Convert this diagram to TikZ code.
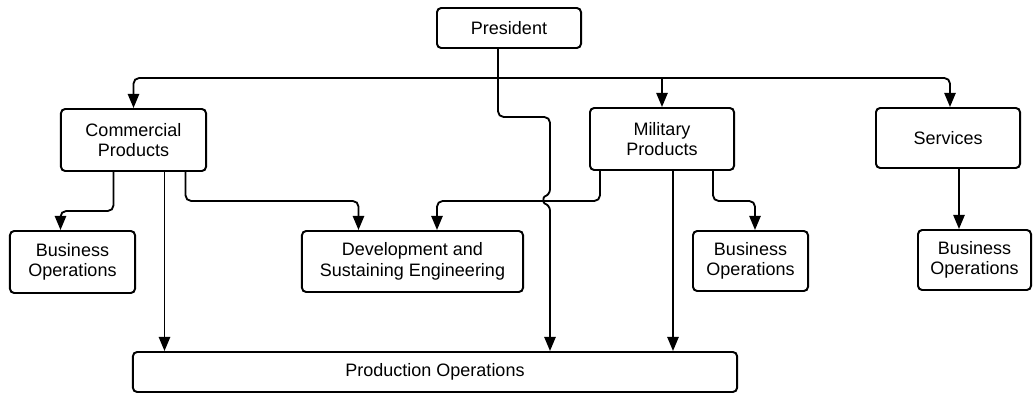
\documentclass[tikz,border=0pt]{standalone}
\usepackage{fontspec}
\setmainfont{Liberation Sans}
\usetikzlibrary{arrows.meta,calc}
\tikzset{
  unit/.style={draw, rounded corners=3pt, line width=1.4pt, align=center, inner sep=2pt,
    font=\fontsize{12.8}{14.5}\selectfont},
  link/.style={line width=1.3pt, rounded corners=4pt, -{Triangle[length=10pt,width=8pt]}},
  wire/.style={line width=1.3pt, rounded corners=4pt},
}
\begin{document}
\begin{tikzpicture}[x=0.025cm, y=-0.025cm]
    \useasboundingbox (0,0) rectangle (1034,394);
    % boxes
    \node[unit, minimum width=3.6cm, minimum height=1cm] (pres) at (509,28) {President};
    \node[unit, minimum width=3.625cm, minimum height=1.55cm] (comm) at (133.5,140) {Commercial\\Products};
    \node[unit, minimum width=3.6cm, minimum height=1.55cm] (mil) at (662,139) {Military\\Products};
    \node[unit, minimum width=3.6cm, minimum height=1.5cm] (serv) at (948,138) {Services};
    \node[unit, minimum width=3.125cm, minimum height=1.55cm] (bo1) at (72.5,262) {Business\\Operations};
    \node[unit, minimum width=5.525cm, minimum height=1.525cm] (dev) at (412.5,261.5) {Development and\\Sustaining Engineering};
    \node[unit, minimum width=2.875cm, minimum height=1.5cm] (bo2) at (750.5,261) {Business\\Operations};
    \node[unit, minimum width=2.825cm, minimum height=1.5cm] (bo3) at (974.5,260) {Business\\Operations};
    \node[unit, minimum width=15.1cm, minimum height=1cm] (prod) at (435,372) {Production Operations};
    % president to divisions
    \coordinate (hub) at (498,78);
    \draw[wire] ($(pres.south)+(-11,0)$) -- (hub);
    \draw[link] (hub) -| (comm.north);
    \draw[link] (hub) -| ($(serv.north)+(2,0)$);
    \draw[link] (mil.north |- hub) -- (mil.north);
    \coordinate (drop) at (550,117);
    \draw[link] (hub) -- (498,117) -- (drop) -- (550,195)
        .. controls (543,197) and (543,203) .. (550,205) -- (drop |- prod.north);
    % commercial
    \draw[link] ($(comm.south)+(-20,0)$) -- ++(0,39) -| ($(bo1.north)+(-12,0)$);
    \draw[link] ($(comm.south)+(52,0)$) -- ++(0,29) -| ($(dev.north)+(-54,0)$);
    \draw[link] ($(comm.south)+(31,0)$) coordinate (c1) -- (c1 |- prod.north);
    % military
    \draw[link] ($(mil.south)+(-62,0)$) -- ++(0,30) -| ($(dev.north)+(24.5,0)$);
    \draw[link] ($(mil.south)+(11,0)$) coordinate (m1) -- (m1 |- prod.north);
    \draw[link] ($(mil.south)+(51,0)$) -- ++(0,30) -| ($(bo2.north)+(4.5,0)$);
    % services
    \draw[link] ($(serv.south)+(11,0)$) coordinate (s1) -- (s1 |- bo3.north);
\end{tikzpicture}
\end{document}
